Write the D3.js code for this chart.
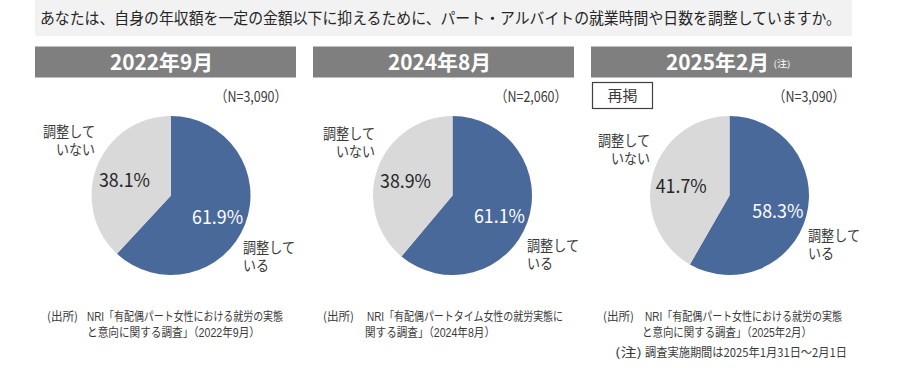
<!DOCTYPE html>
<html><head><meta charset="utf-8">
<script src="https://cdn.jsdelivr.net/npm/d3@7"></script>
<style>
html,body{margin:0;padding:0;background:#fff;}
svg{display:block;}
text{font-family:"Noto Sans CJK JP","Noto Sans",sans-serif;}
text.tight{font-family:"Liberation Sans","Noto Sans CJK JP",sans-serif;}
</style></head>
<body><svg id="chart" width="900" height="368"></svg>
<script>
// ---- data ----
const question = "あなたは、自身の年収額を一定の金額以下に抑えるために、パート・アルバイトの就業時間や日数を調整していますか。";
const periods = ["2022年9月", "2024年8月", "2025年2月"];
const categories = ["調整している", "調整していない"];
const adjustedPct = [61.9, 61.1, 58.3];
const notAdjustedPct = [38.1, 38.9, 41.7];
const sampleSizes = ["3,090", "2,060", "3,090"];
const sourceLine1 = ["NRI「有配偶パート女性における就労の実態", "NRI「有配偶パートタイム女性の就労実態に", "NRI「有配偶パート女性における就労の実態"];
const sourceLine2 = ["と意向に関する調査」（2022年9月）", "関する調査」（2024年8月）", "と意向に関する調査」（2025年2月）"];
const noteText = "調査実施期間は2025年1月31日～2月1日";

// ---- layout ----
const boxX = [35, 313, 591], boxW = 261, boxY = 46.5, boxH = 31;
const cxs = [171, 452.5, 729.5], cy = 195.5, R = 79.5;
const leftLblX = [95, 375, 650], leftLblY = [132, 133.5, 141];
const rightLblX = [243, 527, 808], rightLblY = [248, 246, 235.5];
const nRight = [287, 567, 845];
const srcParenX = [47, 323, 603], srcBodyX = [87, 367, 645], srcBodyEnd = [283, 563, 842];
const src2X = [87, 365, 642], src2End = [260, 495, 812];
const colors = ["#4a699b", "#d9d9d9"];
const textCol = "#3a3a3a";

const svg = d3.select("#chart");

// question banner
svg.append("rect").attr("x", 35).attr("y", 0).attr("width", 817).attr("height", 36).attr("fill", "#f2f2f2");
svg.append("text").attr("x", 40).attr("y", 18.5).attr("dy", "0.35em")
  .attr("font-size", 15.5).attr("fill", "#262626")
  .attr("textLength", 801).attr("lengthAdjust", "spacingAndGlyphs").text(question);

const pie = d3.pie().sort(null).value(d => d);
const arc = d3.arc().innerRadius(0).outerRadius(R);
const lblArc = d3.arc().innerRadius(0).outerRadius(100);

// stacked lines of text
function lines(g, x, y, anchor, strs, lens, fs, gap) {
  strs.forEach((ln, k) => {
    g.append("text").attr("class", "tight").attr("text-anchor", anchor).attr("font-size", fs).attr("fill", textCol)
      .attr("x", x[k]).attr("y", y + k * gap + fs * 0.35)
      .attr("textLength", lens[k]).attr("lengthAdjust", "spacingAndGlyphs").text(ln);
  });
}

periods.forEach((p, i) => {
  const g = svg.append("g");
  // header box
  g.append("rect").attr("x", boxX[i]).attr("y", boxY).attr("width", boxW).attr("height", boxH).attr("fill", "#7f7f7f");
  const tx = boxX[i] + boxW / 2 - 4;
  g.append("text").attr("x", tx).attr("y", boxY + boxH / 2 + 1).attr("dy", "0.35em")
    .attr("text-anchor", "middle").attr("font-size", 21).attr("font-weight", "bold").attr("fill", "#fff")
    .attr("textLength", 103).attr("lengthAdjust", "spacingAndGlyphs").text(p);
  if (i === 2) {
    g.append("text").attr("x", tx + 56).attr("y", boxY + boxH / 2 + 2).attr("dy", "0.35em")
      .attr("font-size", 9).attr("fill", "#fff").text("(注)")
      .attr("textLength", 17).attr("lengthAdjust", "spacingAndGlyphs");
    // 再掲 box
    g.append("rect").attr("x", 592.5).attr("y", 82.5).attr("width", 60).attr("height", 26)
      .attr("fill", "#fff").attr("stroke", "#404040").attr("stroke-width", 1.2);
    g.append("text").attr("x", 622.5).attr("y", 95.5).attr("dy", "0.35em").attr("text-anchor", "middle")
      .attr("font-size", 15).attr("fill", textCol).text("再掲");
  }
  // N label
  g.append("text").attr("x", nRight[i]).attr("y", 96.5).attr("dy", "0.35em").attr("text-anchor", "end")
    .attr("font-size", 15).attr("fill", textCol)
    .attr("textLength", 72).attr("lengthAdjust", "spacingAndGlyphs").text("（N=" + sampleSizes[i] + "）");

  // pie
  const vals = [adjustedPct[i], notAdjustedPct[i]];
  const arcs = pie(vals);
  const pg = g.append("g").attr("transform", `translate(${cxs[i]},${cy})`);
  pg.selectAll("path").data(arcs).join("path").attr("d", arc).attr("fill", (d, k) => colors[k]);
  pg.selectAll("text.pct").data(arcs).join("text").attr("class", "pct")
    .attr("x", d => lblArc.centroid(d)[0]).attr("y", d => lblArc.centroid(d)[1] + 3.3)
    .attr("dy", "0.35em").attr("text-anchor", "middle")
    .attr("font-family", "'Open Sans','Noto Sans',sans-serif")
    .attr("font-size", 19).attr("fill", (d, k) => k === 0 ? "#ffffff" : "#262626")
    .attr("textLength", 51).attr("lengthAdjust", "spacingAndGlyphs")
    .text(d => d3.format(".1f")(d.data) + "%");

  // category labels
  const notLbl = categories[1];
  lines(g, [leftLblX[i], leftLblX[i]], leftLblY[i], "end", [notLbl.slice(0, 4), notLbl.slice(4)], [52, 39], 14.5, 18);
  const adjLbl = categories[0];
  lines(g, [rightLblX[i], rightLblX[i]], rightLblY[i], "start", [adjLbl.slice(0, 4), adjLbl.slice(4)], [52, 26], 14.5, 18);

  // sources
  const fs = 12;
  const y1 = 317, y2 = 333;
  g.append("text").attr("x", srcParenX[i]).attr("y", y1).attr("dy", "0.35em")
    .attr("font-size", fs).attr("fill", textCol).attr("textLength", 31).attr("lengthAdjust", "spacingAndGlyphs").text("(出所)");
  lines(g, [srcBodyX[i], src2X[i]], y1, "start", [sourceLine1[i], sourceLine2[i]],
    [srcBodyEnd[i] - srcBodyX[i], src2End[i] - src2X[i]], fs, y2 - y1);
  if (i === 2) {
    g.append("text").attr("x", 615).attr("y", 353).attr("dy", "0.35em")
      .attr("font-size", fs).attr("fill", textCol).attr("textLength", 27).attr("lengthAdjust", "spacingAndGlyphs").text("(注)");
    g.append("text").attr("x", 645).attr("y", 353).attr("dy", "0.35em")
      .attr("font-size", fs).attr("fill", textCol).attr("textLength", 202).attr("lengthAdjust", "spacingAndGlyphs").text(noteText);
  }
});
</script></body></html>
